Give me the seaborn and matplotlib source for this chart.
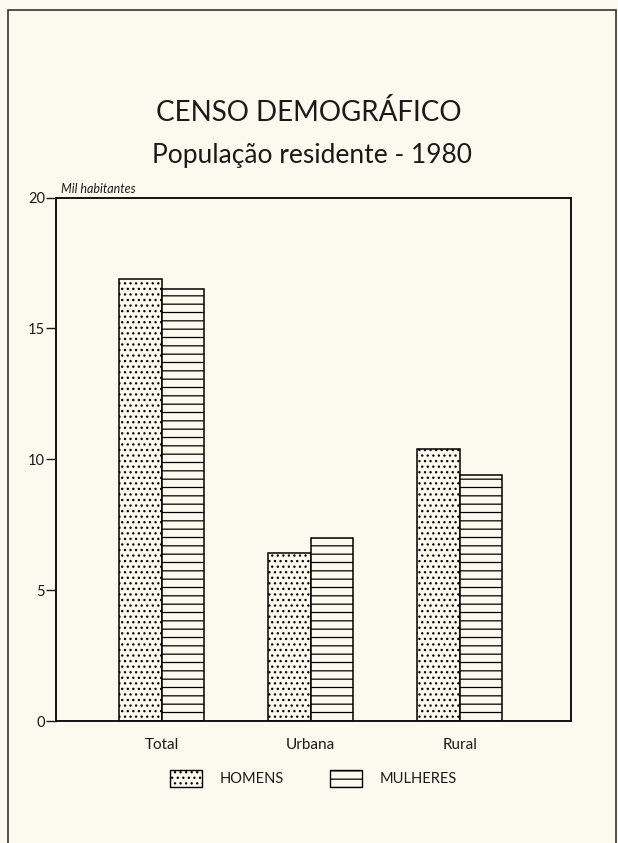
# plot.py
# Censo demográfico - população residente 1980 (barras com hachuras)

import matplotlib.pyplot as plt
import seaborn as sns
import pandas as pd
from matplotlib.patches import Patch, Rectangle

categorias = ["Total", "Urbana", "Rural"]
homens = [16.9, 6.4, 10.4]
mulheres = [16.5, 7.0, 9.4]
sexos = ["HOMENS", "MULHERES"]
yticks = [0, 5, 10, 15, 20]

df = pd.DataFrame({
    "categoria": categorias * 2,
    "sexo": [sexos[0]] * 3 + [sexos[1]] * 3,
    "valor": homens + mulheres,
})

sns.set_style("white")
plt.rcParams["font.family"] = ["Lato", "DejaVu Sans"]
plt.rcParams["text.color"] = "#1a1a1a"
plt.rcParams["xtick.color"] = "#1a1a1a"
plt.rcParams["ytick.color"] = "#1a1a1a"
plt.rcParams["hatch.linewidth"] = 0.9
bg = "#fcfaee"

fig = plt.figure(figsize=(6.18, 8.43), dpi=100, facecolor=bg)
ax = fig.add_axes([0.0906, 0.1447, 0.833, 0.621], facecolor=bg)

sns.barplot(data=df, x="categoria", y="valor", hue="sexo", order=categorias,
            hue_order=sexos, palette=[bg, bg], width=0.57, saturation=1,
            edgecolor="black", linewidth=1.1, legend=False, ax=ax)

hatches = {sexos[0]: "...", sexos[1]: "--"}
n = len(categorias)
for i, bar in enumerate(ax.patches):
    bar.set_hatch(hatches[sexos[i // n]])
    bar.set_facecolor(bg)
    bar.set_edgecolor("black")

ax.set_xlim(-0.71, 2.745)
ax.set_ylim(0, 20)
ax.set_yticks(yticks)
ax.set_yticklabels([str(t) for t in yticks], fontsize=10.5)
ax.set_xticks(range(n))
ax.set_xticklabels(categorias, fontsize=11)
ax.set_xlabel("")
ax.set_ylabel("")
ax.tick_params(axis="y", direction="out", length=7, width=1, left=True, pad=1)
ax.tick_params(axis="x", length=0, pad=12)
for s in ax.spines.values():
    s.set_visible(True)
    s.set_linewidth(1.4)
    s.set_color("#111111")

ax.text(0.01, 1.004, "Mil habitantes", transform=ax.transAxes, fontsize=9,
        style="italic", va="bottom", ha="left")

fig.text(0.5, 0.867, "CENSO DEMOGRÁFICO", ha="center", va="center", fontsize=20)
fig.text(0.505, 0.816, "População residente - 1980", ha="center", va="center",
         fontsize=19)

handles = [Patch(facecolor=bg, edgecolor="black", hatch=hatches[s], label=s) for s in sexos]
fig.legend(handles=handles, loc="center", bbox_to_anchor=(0.507, 0.077), ncol=2,
           frameon=False, handlelength=2.2, handleheight=1.4,
           columnspacing=3.2, handletextpad=1.2, prop={"size": 10.5})

fig.patches.append(Rectangle((8 / 618, -0.01), 608 / 618, 1 - 10 / 843 + 0.01,
                             transform=fig.transFigure, fill=False,
                             edgecolor="#333333", linewidth=1.2))

fig.savefig("out.png", dpi=100, facecolor=bg)
